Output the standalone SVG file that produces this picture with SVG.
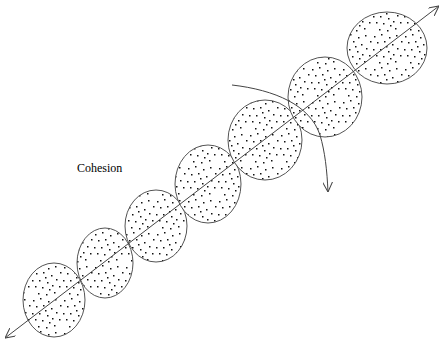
<svg xmlns="http://www.w3.org/2000/svg" width="441" height="341" viewBox="0 0 441 341">
<style>
.cell{fill:url(#dots);stroke:#555;stroke-width:1}
.ln{fill:none;stroke:#444;stroke-width:1}
.lbl{font-family:"Liberation Serif","Times New Roman",serif;font-size:12px;fill:#000}
</style>
<defs>
<pattern id="dots" patternUnits="userSpaceOnUse" width="31" height="33">
<rect width="31" height="33" fill="#fff"/>
<g fill="#111">
<rect x="2" y="3" width="1.5" height="1.5"/><rect x="9" y="1" width="1.5" height="1.5"/><rect x="17" y="4" width="1.5" height="1.5"/><rect x="24" y="2" width="1.5" height="1.5"/><rect x="29" y="8" width="1.5" height="1.5"/><rect x="5" y="9" width="1.5" height="1.5"/><rect x="12" y="8" width="1.5" height="1.5"/><rect x="20" y="11" width="1.5" height="1.5"/><rect x="1" y="16" width="1.5" height="1.5"/><rect x="8" y="16" width="1.5" height="1.5"/><rect x="16" y="18" width="1.5" height="1.5"/><rect x="25" y="15" width="1.5" height="1.5"/><rect x="4" y="22" width="1.5" height="1.5"/><rect x="11" y="23" width="1.5" height="1.5"/><rect x="21" y="21" width="1.5" height="1.5"/><rect x="28" y="22" width="1.5" height="1.5"/><rect x="7" y="29" width="1.5" height="1.5"/><rect x="15" y="30" width="1.5" height="1.5"/><rect x="23" y="28" width="1.5" height="1.5"/><rect x="18" y="25" width="1.5" height="1.5"/><rect x="14" y="13" width="1.5" height="1.5"/>
</g>
</pattern>
<marker id="arr" viewBox="0 0 10 10" refX="10" refY="5" markerWidth="10" markerHeight="10" markerUnits="userSpaceOnUse" orient="auto-start-reverse">
<path d="M0,0 L10,5 L0,10" fill="none" stroke="#444" stroke-width="1"/>
</marker>
</defs>
<rect width="441" height="341" fill="#fff"/>
<g id="cell1"><ellipse class="cell" cx="54" cy="300" rx="31" ry="37"/></g>
<g id="cell2"><ellipse class="cell" cx="105" cy="263" rx="28" ry="35"/></g>
<g id="cell3"><ellipse class="cell" cx="156" cy="226" rx="31" ry="36"/></g>
<g id="cell4"><ellipse class="cell" cx="208" cy="184" rx="33" ry="39"/></g>
<g id="cell5"><ellipse class="cell" cx="265" cy="140" rx="37" ry="40"/></g>
<g id="cell6"><ellipse class="cell" cx="325" cy="97" rx="37" ry="40"/></g>
<g id="cell7"><ellipse class="cell" cx="387" cy="48" rx="40" ry="36"/></g>
<g id="label"><text class="lbl" x="77" y="172">Cohesion</text></g>
<g id="connectors">
<line class="ln" x1="5" y1="338" x2="439" y2="6" marker-start="url(#arr)" marker-end="url(#arr)"/>
<path class="ln" d="M232,85 C275,90 310,105 320,135 C325,152 327,170 328,192" marker-end="url(#arr)"/>
</g>
</svg>
